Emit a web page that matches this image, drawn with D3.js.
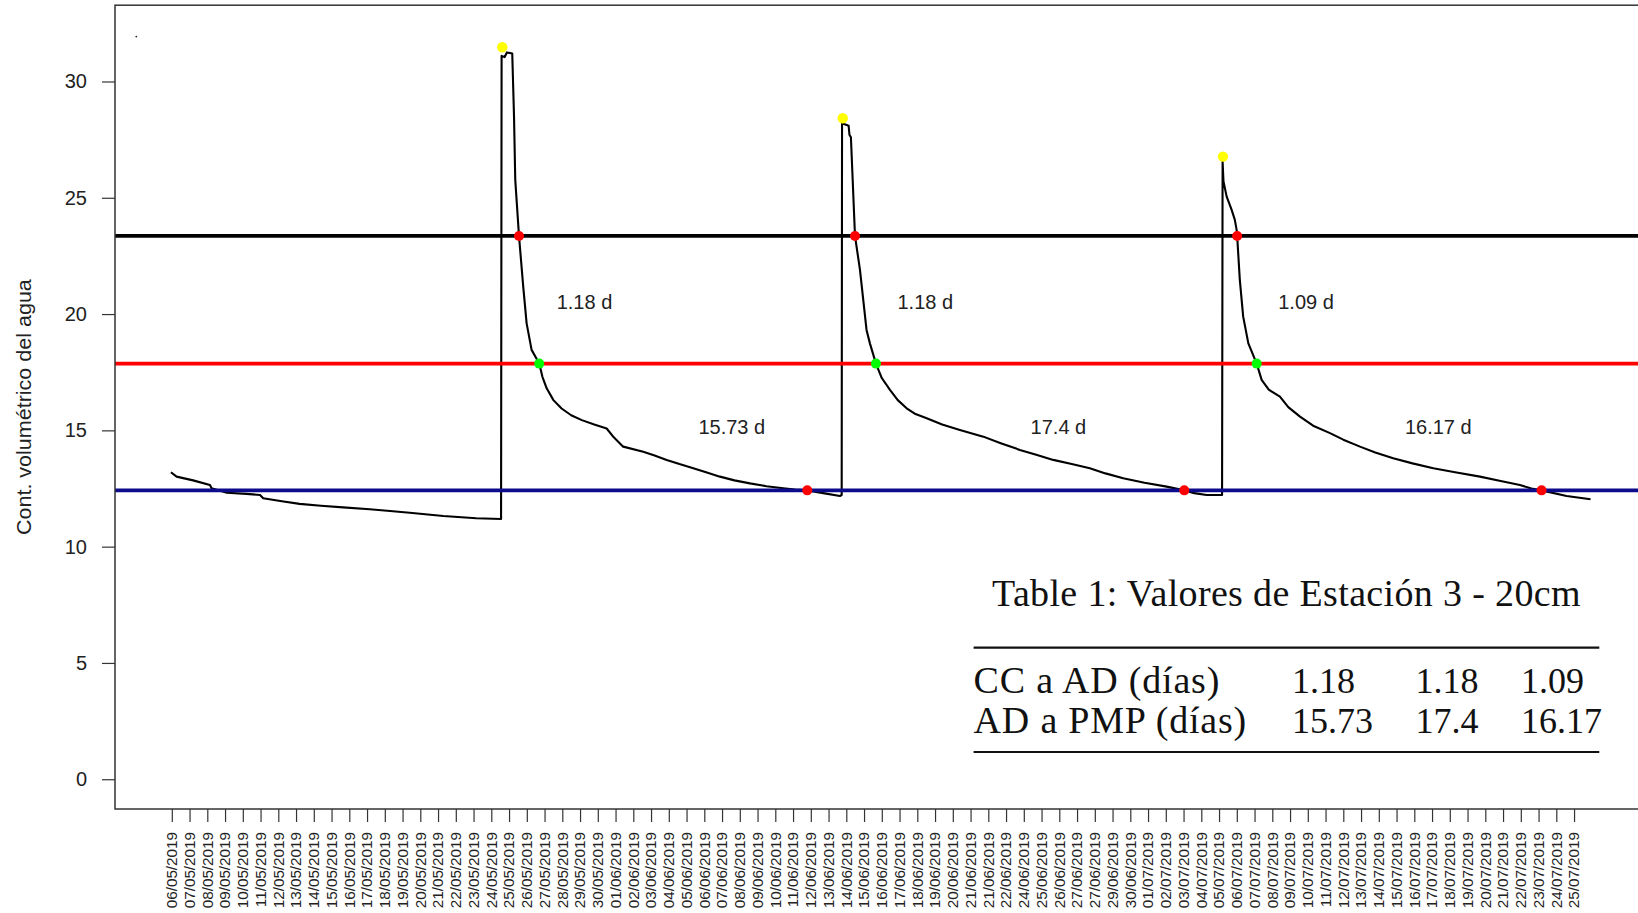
<!DOCTYPE html>
<html>
<head>
<meta charset="utf-8">
<script src="https://cdn.jsdelivr.net/npm/d3@7"></script>
<style>
  body { margin: 0; background: #fff; }
  svg { display: block; }
</style>
</head>
<body>
<div id="chart"></div>
<script>
// tick labels along the bottom (one per tick index)
var dateLabels = [
  "06/05/2019","07/05/2019","08/05/2019","09/05/2019","10/05/2019","11/05/2019","12/05/2019",
  "13/05/2019","14/05/2019","15/05/2019","16/05/2019","17/05/2019","18/05/2019","19/05/2019",
  "20/05/2019","21/05/2019","22/05/2019","23/05/2019","24/05/2019","25/05/2019","26/05/2019",
  "27/05/2019","28/05/2019","29/05/2019","30/05/2019","01/06/2019","02/06/2019","03/06/2019",
  "04/06/2019","05/06/2019","06/06/2019","07/06/2019","08/06/2019","09/06/2019","10/06/2019",
  "11/06/2019","12/06/2019","13/06/2019","14/06/2019","15/06/2019","16/06/2019","17/06/2019",
  "18/06/2019","19/06/2019","20/06/2019","21/06/2019","21/06/2019","22/06/2019","24/06/2019",
  "25/06/2019","26/06/2019","27/06/2019","27/06/2019","29/06/2019","30/06/2019","01/07/2019",
  "02/07/2019","03/07/2019","04/07/2019","05/07/2019","06/07/2019","07/07/2019","08/07/2019",
  "09/07/2019","10/07/2019","11/07/2019","12/07/2019","13/07/2019","14/07/2019","15/07/2019",
  "16/07/2019","17/07/2019","18/07/2019","19/07/2019","20/07/2019","21/07/2019","22/07/2019",
  "23/07/2019","24/07/2019","25/07/2019"
];
var yTicks = [0, 5, 10, 15, 20, 25, 30];

// soil water content series (x = tick index, y = value)
var soilX = [
  -0.05, 0.27, 1.2, 2.15, 2.24, 3.1, 4.2, 4.97, 5.15, 6.2, 7.2, 8.4, 9.65, 11.15, 12.3, 13.4, 15.3, 17.15, 18.55,
  18.58, 18.75, 18.88, 19.18, 19.28, 19.35, 19.56, 19.8, 19.99, 20.27, 20.7, 20.88, 21.12, 21.5, 21.96,
  22.5, 23.1, 23.8, 24.5, 24.9, 25.43, 26.56, 27.2, 27.88, 28.6, 29.38, 30.1, 30.88, 31.7, 32.57, 33.5,
  34.45, 35.1, 35.8, 36.7, 37.64, 37.74,
  37.76, 38.13, 38.18, 38.26, 38.49, 38.77, 39.14, 39.33, 39.67, 40.0, 40.46, 40.9, 41.4, 41.9, 42.53,
  43.4, 44.4, 45.72, 46.7, 47.78, 48.7, 49.66, 50.7, 51.72, 52.6, 53.6, 54.8, 56.05, 57.04, 57.6, 58.3, 59.17,
  59.2, 59.25, 59.43, 59.7, 59.89, 59.99, 60.02, 60.17, 60.36, 60.65, 61.12, 61.4, 61.8, 62.43, 62.9,
  63.56, 64.3, 65.25, 66.0, 66.94, 67.8, 68.81, 69.9, 71.07, 72.3, 73.7, 74.8, 75.95, 76.6, 77.17, 78.58, 79.93
];
var soilY = [
  13.2, 13.01, 12.85, 12.65, 12.51, 12.32, 12.27, 12.22, 12.08, 11.95, 11.84, 11.76, 11.69, 11.61, 11.53, 11.46, 11.32, 11.22, 11.19,
  31.1, 31.05, 31.25, 31.2, 28.5, 25.77, 23.36, 21.17, 19.6, 18.46, 17.87, 17.3, 16.81, 16.3, 15.94,
  15.65, 15.44, 15.25, 15.08, 14.7, 14.3, 14.08, 13.92, 13.73, 13.55, 13.37, 13.2, 13.01, 12.85, 12.72, 12.6,
  12.51, 12.45, 12.42, 12.3, 12.18, 12.22,
  28.2, 28.1, 27.7, 27.6, 23.36, 21.9, 19.32, 18.74, 17.87, 17.25, 16.74, 16.3, 15.95, 15.7, 15.52,
  15.25, 15.02, 14.73, 14.45, 14.16, 13.95, 13.73, 13.55, 13.37, 13.15, 12.94, 12.75, 12.58, 12.42, 12.3, 12.22, 12.22,
  26.55, 25.7, 25.05, 24.5, 24.05, 23.62, 23.36, 21.47, 19.89, 18.74, 17.87, 17.17, 16.75, 16.45, 16.0,
  15.59, 15.2, 14.88, 14.6, 14.3, 14.05, 13.8, 13.58, 13.37, 13.2, 13.01, 12.83, 12.65, 12.5, 12.42, 12.18, 12.04
];

// threshold levels: CC (black), AD (red), PMP (blue)
var levelValues = [23.36, 17.87, 12.42];
var levelColors = ["#000000", "#ff0000", "#0b0b8c"];

// marked points
var peakX = [18.62, 37.8, 59.22];
var peakY = [31.47, 28.42, 26.77];
var ccX = [19.56, 38.49, 60.02];
var adX = [20.7, 39.67, 61.12];
var pmpX = [35.8, 57.04, 77.17];
var strayX = [-2.0];
var strayY = [31.93];

// durations written on the chart
var ccToAd = [1.18, 1.18, 1.09];
var adToPmp = [15.73, 17.4, 16.17];
var ccToAdPosX = [23.25, 42.45, 63.9];
var adToPmpPosX = [31.55, 49.95, 71.35];
var ccToAdPosY = 20.53;
var adToPmpPosY = 15.13;

// table
var tableCaption = "Table 1: Valores de Estación 3 - 20cm";
var tableRows = ["CC a AD (días)", "AD a PMP (días)"];
var tableValues = [["1.18", "1.18", "1.09"], ["15.73", "17.4", "16.17"]];

var W = 1638, H = 913;
var plotLeft = 115, plotTop = 5.2, plotBottom = 809;

var svg = d3.select("#chart")
  .append("svg")
    .attr("width", W)
    .attr("height", H);

var x = d3.scaleLinear()
  .domain([-3.2, 83.1])
  .range([plotLeft, plotLeft + 86.3 * 17.75]);

var y = d3.scaleLinear()
  .domain([-1.28, 33.28])
  .range([plotBottom, plotTop]);

var sans = "Liberation Sans, Arial, Helvetica, sans-serif";

// Y axis
var yAxis = svg.append("g")
  .attr("transform", "translate(" + plotLeft + ",0)")
  .call(d3.axisLeft(y).tickValues(yTicks).tickSize(13).tickPadding(15).tickSizeOuter(0));
yAxis.select(".domain").remove();
yAxis.selectAll("line").attr("stroke", "#333").attr("stroke-width", 1.2);
yAxis.selectAll("text")
  .attr("fill", "#222")
  .style("font-family", sans)
  .style("font-size", "20px");

// X axis
var xAxis = svg.append("g")
  .attr("transform", "translate(0," + plotBottom + ")")
  .call(d3.axisBottom(x)
    .tickValues(d3.range(dateLabels.length))
    .tickFormat(function(i) { return dateLabels[i]; })
    .tickSize(13).tickSizeOuter(0));
xAxis.select(".domain").remove();
xAxis.selectAll("line").attr("stroke", "#333").attr("stroke-width", 1.2);
xAxis.selectAll("text")
  .attr("x", 0).attr("y", 0).attr("dx", 0).attr("dy", "0.35em")
  .attr("transform", "translate(0,23) rotate(-90) scale(1.09,1)")
  .style("text-anchor", "end")
  .style("font-family", sans)
  .style("font-size", "14px")
  .attr("fill", "#222");

// Y title
svg.append("text")
  .attr("transform", "translate(24," + ((plotTop + plotBottom) / 2) + ") rotate(-90) scale(1.076,1)")
  .attr("text-anchor", "middle")
  .attr("dominant-baseline", "central")
  .style("font-family", sans)
  .style("font-size", "20px")
  .attr("fill", "#222")
  .text("Cont. volumétrico del agua");

// clip for the plot region
svg.append("clipPath").attr("id", "plotclip")
  .append("rect")
    .attr("x", plotLeft).attr("y", plotTop)
    .attr("width", x.range()[1] - plotLeft).attr("height", plotBottom - plotTop);

var plot = svg.append("g").attr("clip-path", "url(#plotclip)");

// series
var soil = soilX.map(function(d, i) { return [d, soilY[i]]; });
plot.append("path")
  .datum(soil)
  .attr("fill", "none")
  .attr("stroke", "#000")
  .attr("stroke-width", 2.1)
  .attr("stroke-linejoin", "round")
  .attr("d", d3.line()
    .x(function(d) { return x(d[0]); })
    .y(function(d) { return y(d[1]); }));

// threshold lines
plot.selectAll("line.level")
  .data(levelValues)
  .enter().append("line")
    .attr("class", "level")
    .attr("x1", x.range()[0])
    .attr("x2", x.range()[1])
    .attr("y1", function(d) { return y(d); })
    .attr("y2", function(d) { return y(d); })
    .attr("stroke", function(d, i) { return levelColors[i]; })
    .attr("stroke-width", 3.6);

// points
function dots(xs, ys, color, r) {
  plot.selectAll(null)
    .data(xs)
    .enter().append("circle")
      .attr("cx", function(d) { return x(d); })
      .attr("cy", function(d, i) { return y(Array.isArray(ys) ? ys[i] : ys); })
      .attr("r", r)
      .attr("fill", color);
}
dots(peakX, peakY, "#ffff00", 5.2);
dots(ccX, levelValues[0], "#ff0000", 5);
dots(adX, levelValues[1], "#00ff00", 5);
dots(pmpX, levelValues[2], "#ff0000", 5);
dots(strayX, strayY, "#222", 0.9);

// duration labels
plot.selectAll("text.cc")
  .data(ccToAd)
  .enter().append("text")
    .attr("x", function(d, i) { return x(ccToAdPosX[i]); })
    .attr("y", y(ccToAdPosY))
    .attr("text-anchor", "middle")
    .attr("dominant-baseline", "central")
    .style("font-family", sans)
    .style("font-size", "20px")
    .attr("fill", "#222")
    .text(function(d) { return d + " d"; });

plot.selectAll("text.pmp")
  .data(adToPmp)
  .enter().append("text")
    .attr("x", function(d, i) { return x(adToPmpPosX[i]); })
    .attr("y", y(adToPmpPosY))
    .attr("text-anchor", "middle")
    .attr("dominant-baseline", "central")
    .style("font-family", sans)
    .style("font-size", "20px")
    .attr("fill", "#222")
    .text(function(d) { return d + " d"; });

// box
svg.append("rect")
  .attr("x", plotLeft).attr("y", plotTop)
  .attr("width", x.range()[1] - plotLeft).attr("height", plotBottom - plotTop)
  .attr("fill", "none")
  .attr("stroke", "#333")
  .attr("stroke-width", 1.5);

// table (LaTeX style)
var serif = "Liberation Serif, Times New Roman, serif";
var tbl = svg.append("g").style("font-family", serif).style("font-size", "38px").attr("fill", "#111");
var ruleX = [973.6, 1599.3];
var colX = [973.6, 1292, 1415.5, 1521];

tbl.append("text")
  .attr("x", (ruleX[0] + ruleX[1]) / 2)
  .attr("y", 606)
  .attr("text-anchor", "middle")
  .style("letter-spacing", "0.35px")
  .text(tableCaption);

tbl.selectAll("line")
  .data([647.7, 752])
  .enter().append("line")
    .attr("x1", ruleX[0]).attr("x2", ruleX[1])
    .attr("y1", function(d) { return d; }).attr("y2", function(d) { return d; })
    .attr("stroke", "#111")
    .attr("stroke-width", 2.2);

var rowY = [692.5, 733];
tableRows.forEach(function(r, i) {
  tbl.append("text").attr("x", colX[0]).attr("y", rowY[i])
    .style("letter-spacing", "0.8px")
    .text(r);
  tableValues[i].forEach(function(v, j) {
    tbl.append("text").attr("x", colX[j + 1]).attr("y", rowY[i])
      .style("font-size", "36px")
      .text(v);
  });
});
</script>
</body>
</html>
